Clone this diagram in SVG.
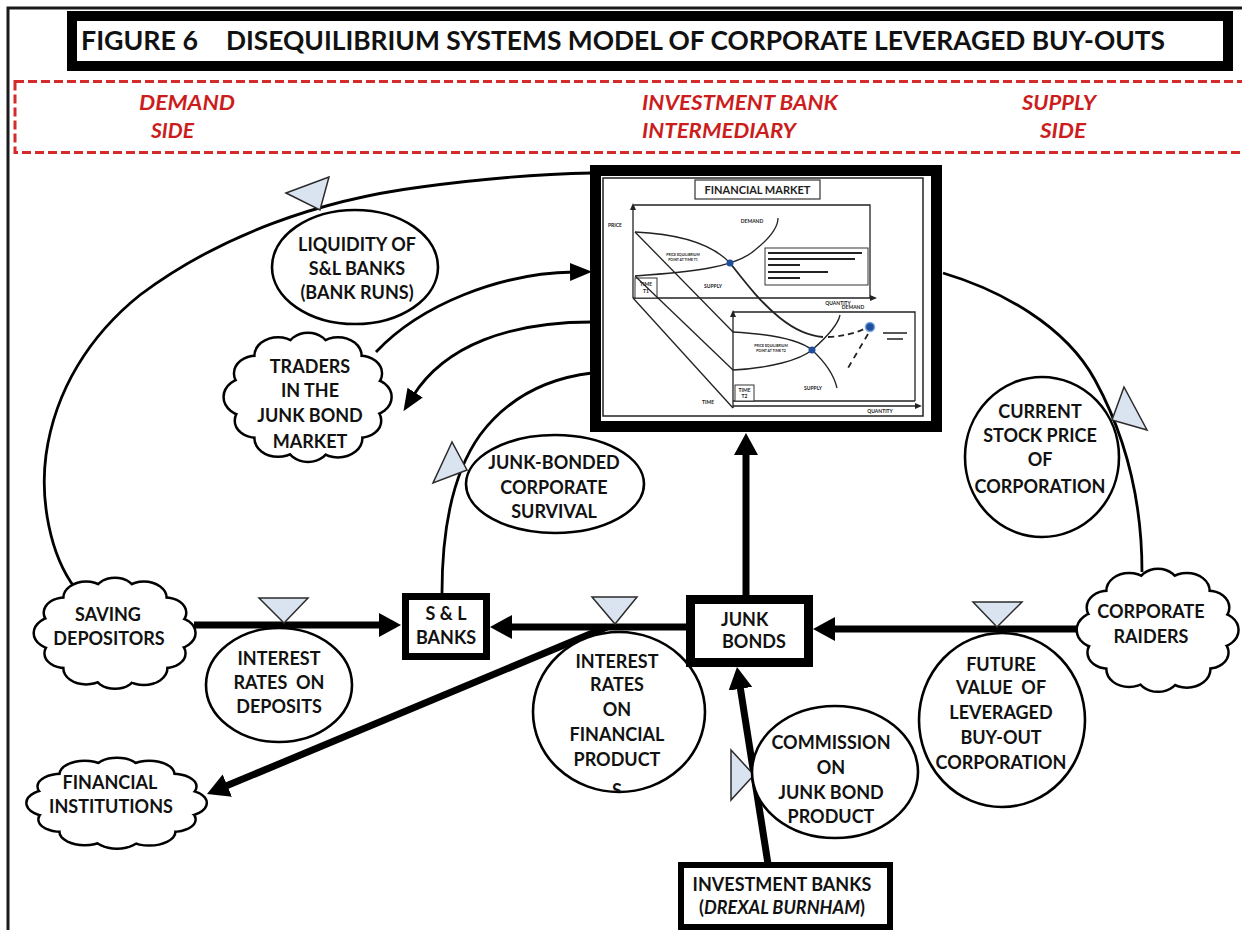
<svg xmlns="http://www.w3.org/2000/svg" xmlns:xlink="http://www.w3.org/1999/xlink" width="1242" height="930" viewBox="0 0 1242 930">
<style>
.lbl{font-family:Lato,"Liberation Sans",sans-serif;font-weight:bold;font-size:18px;text-anchor:middle;fill:#111}
.red{font-family:Lato,"Liberation Sans",sans-serif;font-weight:bold;font-style:italic;font-size:21px;fill:#cc1d1d}
.title{font-family:Lato,"Liberation Sans",sans-serif;font-weight:bold;font-size:26px;fill:#111}
.arc{fill:none;stroke:#000;stroke-width:2.8}
.thick{fill:none;stroke:#000;stroke-width:7}
.node{fill:#fff;stroke:#000;stroke-width:2.6}
.box{fill:#fff;stroke:#000}
.tri{fill:#dae3f0;stroke:#2b2b2b;stroke-width:1.5}
.cstroke{fill:#fff;stroke:#000;stroke-width:5}
.cfill{fill:#fff;stroke:none}
.ch{fill:none;stroke:#222;stroke-width:1.3}
.tiny{font-family:Lato,"Liberation Sans",sans-serif;font-weight:bold;font-size:5px;fill:#222;text-anchor:middle}
.leg{stroke:#222;stroke-width:2}
</style>
<defs>
<marker id="ah" markerUnits="userSpaceOnUse" markerWidth="24" markerHeight="26" refX="4" refY="12" orient="auto"><path d="M0,0 L22,12 L0,24 z" fill="#000"/></marker>
<marker id="ahThin" markerUnits="userSpaceOnUse" markerWidth="24" markerHeight="20" refX="4" refY="9" orient="auto"><path d="M0,0 L22,9 L0,18 z" fill="#000"/></marker>
<marker id="ahSmall" markerUnits="userSpaceOnUse" markerWidth="8" markerHeight="8" refX="1" refY="3" orient="auto"><path d="M0,0 L7,3 L0,6 z" fill="#222"/></marker>
<clipPath id="clipFin"><ellipse cx="619" cy="712" rx="86" ry="80"/></clipPath>
<g id="cloudShape">
<circle cx="0.75" cy="0" r="0.28" vector-effect="non-scaling-stroke"/>
<circle cx="0.65" cy="0.375" r="0.25" vector-effect="non-scaling-stroke"/>
<circle cx="0.375" cy="0.65" r="0.29" vector-effect="non-scaling-stroke"/>
<circle cx="0" cy="0.75" r="0.26" vector-effect="non-scaling-stroke"/>
<circle cx="-0.375" cy="0.65" r="0.28" vector-effect="non-scaling-stroke"/>
<circle cx="-0.65" cy="0.375" r="0.25" vector-effect="non-scaling-stroke"/>
<circle cx="-0.75" cy="0" r="0.29" vector-effect="non-scaling-stroke"/>
<circle cx="-0.65" cy="-0.375" r="0.26" vector-effect="non-scaling-stroke"/>
<circle cx="-0.375" cy="-0.65" r="0.28" vector-effect="non-scaling-stroke"/>
<circle cx="0" cy="-0.75" r="0.25" vector-effect="non-scaling-stroke"/>
<circle cx="0.375" cy="-0.65" r="0.28" vector-effect="non-scaling-stroke"/>
<circle cx="0.65" cy="-0.375" r="0.26" vector-effect="non-scaling-stroke"/>
<circle cx="0" cy="0" r="0.78" vector-effect="non-scaling-stroke"/>
</g>
</defs>
<rect width="1242" height="930" fill="#fff"/>
<!-- outer frame -->
<path d="M8,930 V8 H1242" fill="none" stroke="#1a1a1a" stroke-width="3"/>
<!-- title -->
<g id="title">
<rect x="72" y="16" width="1156" height="50" fill="#fff" stroke="#000" stroke-width="10"/>
<text class="title" y="50"><tspan x="81" textLength="117" lengthAdjust="spacingAndGlyphs">FIGURE 6</tspan><tspan x="226" textLength="939" lengthAdjust="spacingAndGlyphs">DISEQUILIBRIUM SYSTEMS MODEL OF CORPORATE LEVERAGED BUY-OUTS</tspan></text>
</g>
<!-- red dashed band -->
<g id="sides">
<rect x="15" y="81.5" width="1240" height="71" fill="none" stroke="#d42a2a" stroke-width="3" stroke-dasharray="9 4"/>
<text class="red" x="139" y="110" textLength="96" lengthAdjust="spacingAndGlyphs">DEMAND</text>
<text class="red" x="151" y="138" textLength="43" lengthAdjust="spacingAndGlyphs">SIDE</text>
<text class="red" x="642" y="110" textLength="196" lengthAdjust="spacingAndGlyphs">INVESTMENT BANK</text>
<text class="red" x="642" y="138" textLength="154" lengthAdjust="spacingAndGlyphs">INTERMEDIARY</text>
<text class="red" x="1022" y="110" textLength="74" lengthAdjust="spacingAndGlyphs">SUPPLY</text>
<text class="red" x="1040" y="138" textLength="46" lengthAdjust="spacingAndGlyphs">SIDE</text>
</g>
<!-- connectors -->
<g id="connectors">
<path class="arc" d="M75,588 C50,555 40,500 46,455 C55,390 90,335 140,295 C220,235 320,200 421,187 C480,179 540,174 592,173"/>
<path class="arc" d="M376,352 C420,305 500,273 574,272" marker-end="url(#ahThin)"/>
<path class="arc" d="M592,322 C510,322 445,345 413,396" marker-end="url(#ahThin)"/>
<path class="arc" d="M442,593 C442,520 455,470 480,435 C510,395 550,378 592,373"/>
<path class="arc" d="M943,273 C1000,290 1065,325 1095,380 C1125,435 1142,500 1142,572"/>
<path class="thick" d="M194,625 L383,625" marker-end="url(#ah)"/>
<path class="thick" d="M690,627 L508,627" marker-end="url(#ah)"/>
<path class="thick" d="M1080,629 L831,629" marker-end="url(#ah)"/>
<path class="thick" d="M746,595 L746,451" marker-end="url(#ah)"/>
<path class="thick" d="M768,864 L739.8,684.8" marker-end="url(#ah)"/>
<path class="thick" d="M607,627 L223.6,787.1" marker-end="url(#ah)"/>
<polygon class="tri" points="286,193 329,177 320,210"/>
<polygon class="tri" points="452,442 433,483 467,470"/>
<polygon class="tri" points="1124,387 1112,420 1147,430"/>
<polygon class="tri" points="259,598 308,598 284,623"/>
<polygon class="tri" points="592,597 637,597 615,624"/>
<polygon class="tri" points="973,602 1022,602 997,627"/>
<polygon class="tri" points="731,750 754,775 731,800"/>
</g>
<!-- financial market -->
<g id="financial-market">
<rect x="595.5" y="170.5" width="341" height="256" fill="#fff" stroke="#000" stroke-width="11"/>
<rect x="603" y="178" width="320" height="238" fill="none" stroke="#222" stroke-width="1.5"/>
<rect x="695" y="180" width="125" height="19" fill="#fff" stroke="#333" stroke-width="1.2"/>
<text x="757.5" y="194" style="font-family:Lato,'Liberation Sans',sans-serif;font-weight:bold;font-size:11px;text-anchor:middle;fill:#222">FINANCIAL MARKET</text>
<!-- upper panel -->
<path class="ch" d="M634,205 H870 V298"/>
<path class="ch" d="M633,298 V209" marker-end="url(#ahSmall)"/>
<path class="ch" d="M633,298 H871" marker-end="url(#ahSmall)"/>
<rect x="635" y="278" width="22" height="20" fill="#fff" stroke="#333" stroke-width="1"/>
<text class="tiny" x="646" y="286">TIME</text><text class="tiny" x="646" y="293">T1</text>
<path class="ch" d="M635,232 C680,234 712,244 730,263"/>
<path class="ch" d="M635,276 C690,272 735,268 755,250 C770,238 778,228 778,218"/>
<path class="ch" d="M635,232 L733,332"/>
<path class="ch" d="M635,276 L733,370"/>
<path class="ch" d="M633,298 L733,408"/>
<path d="M730,263 C745,282 760,302 780,318 C795,330 810,336 823,337" fill="none" stroke="#222" stroke-width="1.8"/>
<path d="M828,337 Q850,336 866,328" fill="none" stroke="#222" stroke-width="1.8" stroke-dasharray="6 4"/>
<path d="M868,334 L848,368" fill="none" stroke="#222" stroke-width="1.8" stroke-dasharray="6 5"/>
<path d="M883,333 H907 M887,339 H903" stroke="#222" stroke-width="1.5"/>
<text class="tiny" x="615" y="227">PRICE</text>
<text class="tiny" x="752" y="223">DEMAND</text>
<text class="tiny" x="713" y="288">SUPPLY</text>
<text class="tiny" x="838" y="305">QUANTITY</text>
<text class="tiny" x="683" y="256" style="font-size:3.5px">PRICE EQUILIBRIUM</text>
<text class="tiny" x="683" y="261" style="font-size:3.5px">POINT AT TIME T1</text>
<rect x="765" y="248" width="103" height="37" fill="#fff" stroke="#333" stroke-width="1"/>
<path class="leg" d="M768,253 H862 M768,259 H855 M768,265 H800 M768,272 H828 M768,278 H800"/>
<circle cx="730" cy="263" r="3.5" fill="#1f4e9c"/>
<!-- lower panel -->
<path class="ch" d="M733,312 H915 V401"/>
<path class="ch" d="M733,408 V316" marker-end="url(#ahSmall)"/>
<path class="ch" d="M733,401 H915"/>
<path class="ch" d="M733,406 H916" marker-end="url(#ahSmall)"/>
<rect x="735" y="385" width="19" height="16" fill="#fff" stroke="#333" stroke-width="1"/>
<text class="tiny" x="744.5" y="392">TIME</text><text class="tiny" x="744.5" y="398">T2</text>
<path class="ch" d="M733,332 C770,334 800,340 812,350 C825,362 834,375 837,388"/>
<path class="ch" d="M733,370 C770,368 800,360 812,350 C828,336 838,325 840,315"/>
<text class="tiny" x="853" y="309">DEMAND</text>
<text class="tiny" x="813" y="390">SUPPLY</text>
<text class="tiny" x="708" y="404">TIME</text>
<text class="tiny" x="880" y="413">QUANTITY</text>
<text class="tiny" x="771" y="347" style="font-size:3.5px">PRICE EQUILIBRIUM</text>
<text class="tiny" x="771" y="352" style="font-size:3.5px">POINT AT TIME T2</text>
<circle cx="812" cy="350" r="3.5" fill="#1f4e9c"/>
<circle cx="870" cy="327" r="4.5" fill="#1f4e9c" stroke="#7aa6e0" stroke-width="1.5"/>
</g>
<!-- nodes -->
<g id="liquidity">
<ellipse class="node" cx="355" cy="267" rx="83" ry="57"/>
<text class="lbl" x="357" y="251">LIQUIDITY OF</text>
<text class="lbl" x="357" y="275">S&amp;L BANKS</text>
<text class="lbl" x="357" y="299">(BANK RUNS)</text>
</g>
<g id="traders">
<g transform="translate(308,397) scale(80,63)"><use xlink:href="#cloudShape" class="cstroke"/><use xlink:href="#cloudShape" class="cfill"/></g>
<text class="lbl" x="310" y="373">TRADERS</text>
<text class="lbl" x="310" y="397">IN THE</text>
<text class="lbl" x="310" y="422">JUNK BOND</text>
<text class="lbl" x="310" y="448">MARKET</text>
</g>
<g id="junk-bonded-survival">
<ellipse class="node" cx="555" cy="484" rx="89" ry="49"/>
<text class="lbl" x="554" y="469">JUNK-BONDED</text>
<text class="lbl" x="554" y="494">CORPORATE</text>
<text class="lbl" x="554" y="518">SURVIVAL</text>
</g>
<g id="current-stock-price">
<ellipse class="node" cx="1042" cy="457" rx="77" ry="80"/>
<text class="lbl" x="1040" y="418">CURRENT</text>
<text class="lbl" x="1040" y="442">STOCK PRICE</text>
<text class="lbl" x="1040" y="466">OF</text>
<text class="lbl" x="1040" y="493">CORPORATION</text>
</g>
<g id="saving-depositors">
<g transform="translate(115,633) scale(77,54)"><use xlink:href="#cloudShape" class="cstroke"/><use xlink:href="#cloudShape" class="cfill"/></g>
<text class="lbl" x="108" y="621">SAVING</text>
<text class="lbl" x="109" y="645">DEPOSITORS</text>
</g>
<g id="interest-deposits">
<ellipse class="node" cx="279" cy="685" rx="73" ry="57"/>
<text class="lbl" x="279" y="665">INTEREST</text>
<text class="lbl" x="279" y="689" xml:space="preserve">RATES  ON</text>
<text class="lbl" x="279" y="713">DEPOSITS</text>
</g>
<g id="sl-banks">
<rect class="box" x="405.5" y="596.5" width="81" height="60" stroke-width="7"/>
<text class="lbl" x="446" y="620">S &amp; L</text>
<text class="lbl" x="446" y="644">BANKS</text>
</g>
<g id="interest-financial">
<ellipse class="node" cx="619" cy="712" rx="86" ry="80"/>
<text class="lbl" x="617" y="668">INTEREST</text>
<text class="lbl" x="617" y="691">RATES</text>
<text class="lbl" x="617" y="716">ON</text>
<text class="lbl" x="617" y="741">FINANCIAL</text>
<text class="lbl" x="617" y="766">PRODUCT</text>
<text class="lbl" x="617" y="797" clip-path="url(#clipFin)">S</text>
</g>
<g id="junk-bonds">
<rect class="box" x="690.5" y="599.5" width="118" height="63" stroke-width="9"/>
<text class="lbl" x="721" y="626" style="text-anchor:start">JUNK</text>
<text class="lbl" x="722" y="648" style="text-anchor:start">BONDS</text>
</g>
<g id="future-value">
<ellipse class="node" cx="1002" cy="720" rx="83" ry="87"/>
<text class="lbl" x="1001" y="671">FUTURE</text>
<text class="lbl" x="1001" y="694" xml:space="preserve">VALUE  OF</text>
<text class="lbl" x="1001" y="719">LEVERAGED</text>
<text class="lbl" x="1001" y="744">BUY-OUT</text>
<text class="lbl" x="1001" y="769">CORPORATION</text>
</g>
<g id="corporate-raiders">
<g transform="translate(1158,630) scale(77,60)"><use xlink:href="#cloudShape" class="cstroke"/><use xlink:href="#cloudShape" class="cfill"/></g>
<text class="lbl" x="1151" y="618">CORPORATE</text>
<text class="lbl" x="1151" y="643">RAIDERS</text>
</g>
<g id="commission">
<ellipse class="node" cx="835" cy="772" rx="83" ry="66"/>
<text class="lbl" x="831" y="749">COMMISSION</text>
<text class="lbl" x="831" y="774">ON</text>
<text class="lbl" x="831" y="799">JUNK BOND</text>
<text class="lbl" x="831" y="823">PRODUCT</text>
</g>
<g id="investment-banks">
<rect class="box" x="681" y="865" width="209" height="62" stroke-width="6"/>
<text class="lbl" x="782" y="891">INVESTMENT BANKS</text>
<text class="lbl" x="782" y="914">(<tspan font-style="italic">DREXAL BURNHAM</tspan>)</text>
</g>
<g id="financial-institutions">
<g transform="translate(117,803) scale(86,44)"><use xlink:href="#cloudShape" class="cstroke"/><use xlink:href="#cloudShape" class="cfill"/></g>
<text class="lbl" x="110" y="789">FINANCIAL</text>
<text class="lbl" x="111" y="813">INSTITUTIONS</text>
</g>
</svg>
